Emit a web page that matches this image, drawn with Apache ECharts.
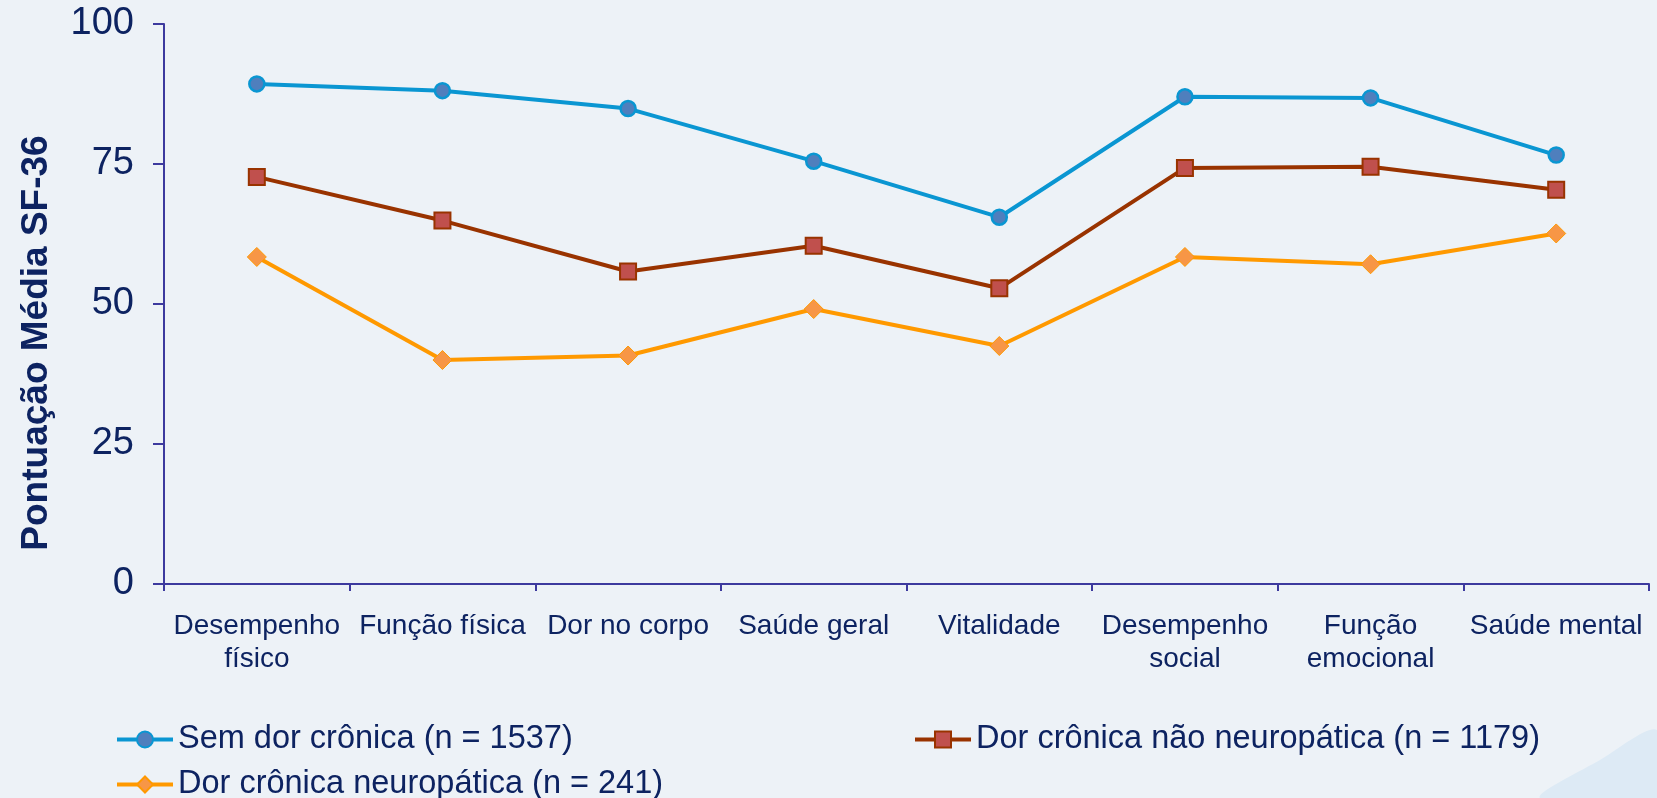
<!DOCTYPE html>
<html>
<head>
<meta charset="utf-8">
<script src="https://cdn.jsdelivr.net/npm/echarts@6/dist/echarts.min.js"></script>
<style>
html,body{margin:0;padding:0;background:#EDF2F7;}
#chart{width:1657px;height:798px;}
</style>
</head>
<body>
<div id="chart"></div>
<script>
const categories = ['Desempenho\nfísico', 'Função física', 'Dor no corpo', 'Saúde geral', 'Vitalidade', 'Desempenho\nsocial', 'Função\nemocional', 'Saúde mental'];
const seriesNames = ['Sem dor crônica (n = 1537)', 'Dor crônica não neuropática (n = 1179)', 'Dor crônica neuropática (n = 241)'];
const semDor = [89.3, 88.1, 84.9, 75.5, 65.5, 87.0, 86.8, 76.6];
const naoNeuropatica = [72.7, 64.9, 55.8, 60.4, 52.8, 74.3, 74.5, 70.4];
const neuropatica = [58.4, 40.0, 40.8, 49.1, 42.5, 58.4, 57.1, 62.6];
const yTicks = [0, 25, 50, 75, 100];
const yTitle = 'Pontuação Média SF-36';

const navy = '#0D2361';
const axisCol = '#3D3A9E';
const chart = echarts.init(document.getElementById('chart'));
const font = 'Liberation Sans, Arial, sans-serif';
const legendText = {color: navy, fontSize: 32.5, fontFamily: font};
const legendCommon = {itemWidth: 56, itemHeight: 20, lineStyle: {width: 4}, textStyle: legendText};

chart.setOption({
  backgroundColor: '#EDF2F7',
  animation: false,
  graphic: [{
    type: 'polygon',
    silent: true,
    z: -10,
    shape: {points: [[1540, 798], [1600, 760], [1657, 730], [1657, 798]], smooth: 0.3},
    style: {fill: '#DDEAF5'}
  }, {
    type: 'text',
    silent: true,
    x: 37, y: 343,
    rotation: Math.PI / 2,
    style: {text: yTitle, fill: navy, font: 'bold 37px ' + font, align: 'center', verticalAlign: 'middle'}
  }],
  grid: {left: 164, right: 8, top: 24, bottom: 214},
  legend: [
    Object.assign({data: [seriesNames[0]], left: 110, top: 718}, legendCommon),
    Object.assign({data: [seriesNames[1]], left: 908, top: 718}, legendCommon),
    Object.assign({data: [seriesNames[2]], left: 110, top: 763}, legendCommon)
  ],
  xAxis: {
    type: 'category',
    data: categories,
    boundaryGap: true,
    axisLine: {lineStyle: {color: axisCol, width: 2}},
    axisTick: {show: true, length: 7, lineStyle: {color: axisCol, width: 2}},
    axisLabel: {color: navy, fontSize: 28, fontFamily: font, lineHeight: 33, margin: 26, interval: 0}
  },
  yAxis: {
    type: 'value',
    min: 0, max: 100, interval: 25,
    axisLine: {show: true, lineStyle: {color: axisCol, width: 2}},
    axisTick: {show: true, length: 11, lineStyle: {color: axisCol, width: 2}},
    splitLine: {show: false},
    axisLabel: {color: navy, fontSize: 38, fontFamily: font, margin: 30,
      formatter: v => yTicks.includes(v) ? String(v) : ''}
  },
  series: [
    {name: seriesNames[0], type: 'line', data: semDor, symbol: 'circle', symbolSize: 15,
      lineStyle: {color: '#0A96D2', width: 4},
      itemStyle: {color: '#4F7FBD', borderColor: '#0A96D2', borderWidth: 2.5}},
    {name: seriesNames[1], type: 'line', data: naoNeuropatica, symbol: 'rect', symbolSize: 16,
      lineStyle: {color: '#993300', width: 4},
      itemStyle: {color: '#C0504D', borderColor: '#993300', borderWidth: 2}},
    {name: seriesNames[2], type: 'line', data: neuropatica, symbol: 'diamond', symbolSize: 19,
      lineStyle: {color: '#FF9900', width: 4},
      itemStyle: {color: '#F79646', borderColor: '#FF9900', borderWidth: 1}}
  ]
});
</script>
</body>
</html>
